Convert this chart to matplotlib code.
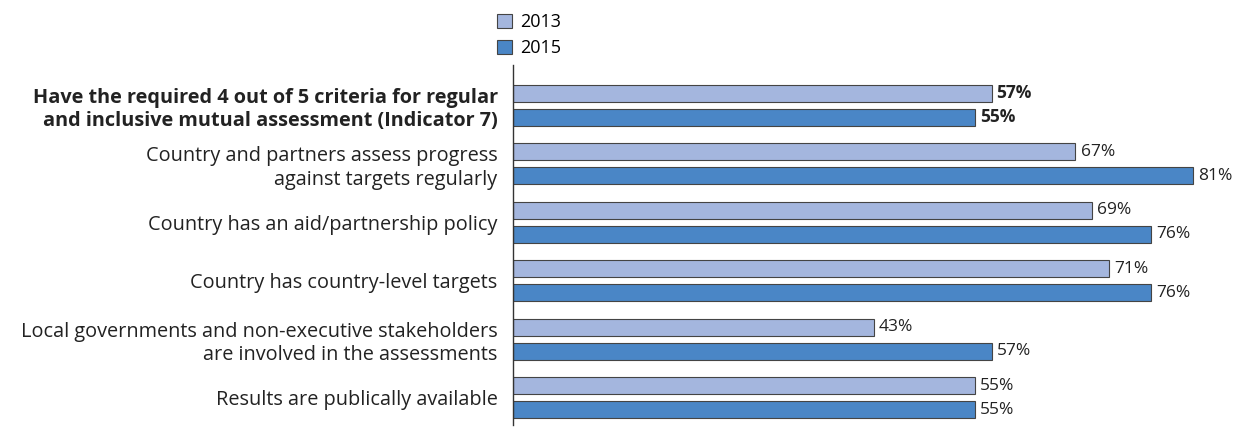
import numpy as np
import matplotlib.pyplot as plt
from matplotlib.patches import Patch

plt.rcParams['font.family'] = ['Open Sans', 'DejaVu Sans']

# === Données ===
categories = [
    "Have the required 4 out of 5 criteria for regular\nand inclusive mutual assessment (Indicator 7)",
    "Country and partners assess progress\nagainst targets regularly",
    "Country has an aid/partnership policy",
    "Country has country-level targets",
    "Local governments and non-executive stakeholders\nare involved in the assessments",
    "Results are publically available",
]
values_2013 = [57, 67, 69, 71, 43, 55]
values_2015 = [55, 81, 76, 76, 57, 55]
series_labels = ["2013", "2015"]

color_2013 = "#a4b6de"
color_2015 = "#4a86c6"
edge = "#444444"

fig = plt.figure(figsize=(12.35, 4.28), dpi=100)
ax = fig.add_axes([513 / 1235, 3 / 428, 1 - 513 / 1235, 360 / 428])

y = np.arange(len(categories))
h = 0.29
off = 0.205
b1 = ax.barh(y - off, values_2013, height=h, color=color_2013, edgecolor=edge, linewidth=0.8)
b2 = ax.barh(y + off, values_2015, height=h, color=color_2015, edgecolor=edge, linewidth=0.8)

for bars, vals in [(b1, values_2013), (b2, values_2015)]:
    for i, (bar, v) in enumerate(zip(bars, vals)):
        ax.text(v + 0.6, bar.get_y() + bar.get_height() / 2, f"{v}%",
                va="center", ha="left", fontsize=12.5, color="#222222",
                fontweight="bold" if i == 0 else "normal")

ax.set_xlim(0, 86)
ax.set_ylim(5.47, -0.69)
ax.set_yticks(y)
ax.set_yticklabels(categories, fontsize=14.3, color="#222222", linespacing=1.22)
ax.get_yticklabels()[0].set_fontweight("bold")
ax.tick_params(axis="y", length=0, pad=11)
ax.set_xticks([])
for s in ["top", "right", "bottom"]:
    ax.spines[s].set_visible(False)
ax.spines["left"].set_color("#333333")
ax.spines["left"].set_linewidth(1)

handles = [Patch(facecolor=color_2013, edgecolor=edge, linewidth=0.8),
           Patch(facecolor=color_2015, edgecolor=edge, linewidth=0.8)]
fig.legend(handles, series_labels, loc="upper left", bbox_to_anchor=(486 / 1235, 0.995),
           frameon=False, fontsize=13, handlelength=0.85, handleheight=0.85,
           handletextpad=0.45, labelspacing=0.45, borderaxespad=0.2)

fig.savefig("out.png", dpi=100)
